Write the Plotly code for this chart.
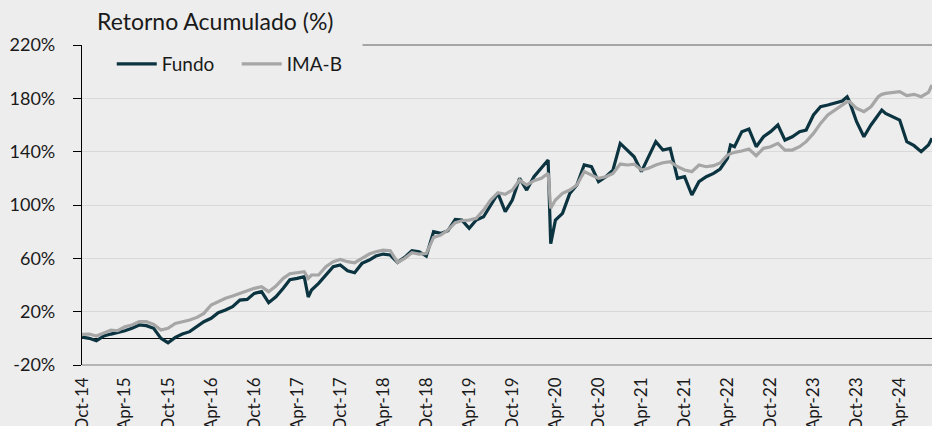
import plotly.graph_objects as go

dates = [
    "2014-10-01", "2014-11-01", "2014-12-01", "2015-01-01", "2015-02-01", "2015-03-01",
    "2015-04-01", "2015-05-01", "2015-06-01", "2015-07-01", "2015-08-01", "2015-09-01",
    "2015-10-01", "2015-11-01", "2015-12-01", "2016-01-01", "2016-02-01", "2016-03-01",
    "2016-04-01", "2016-05-01", "2016-06-01", "2016-07-01", "2016-08-01", "2016-09-01",
    "2016-10-01", "2016-11-01", "2016-12-01", "2017-01-01", "2017-02-01", "2017-03-01",
    "2017-04-01", "2017-05-01", "2017-05-18", "2017-06-01", "2017-07-01", "2017-08-01",
    "2017-09-01", "2017-10-01", "2017-11-01", "2017-12-01", "2018-01-01", "2018-02-01",
    "2018-03-01", "2018-04-01", "2018-05-01", "2018-06-01", "2018-07-01", "2018-08-01",
    "2018-09-01", "2018-10-01", "2018-11-01", "2018-12-01", "2019-01-01", "2019-02-01",
    "2019-03-01", "2019-04-01", "2019-05-01", "2019-06-01", "2019-07-01", "2019-08-01",
    "2019-09-01", "2019-10-01", "2019-11-01", "2019-12-01", "2020-01-01", "2020-02-01",
    "2020-03-01", "2020-03-12", "2020-04-01", "2020-05-01", "2020-06-01", "2020-07-01",
    "2020-08-01", "2020-09-01", "2020-10-01", "2020-11-01", "2020-12-01", "2021-01-01",
    "2021-02-01", "2021-03-01", "2021-04-01", "2021-05-01", "2021-06-01", "2021-07-01",
    "2021-08-01", "2021-09-01", "2021-10-01", "2021-11-01", "2021-12-01", "2022-01-01",
    "2022-02-01", "2022-03-01", "2022-04-01", "2022-04-14", "2022-05-01", "2022-06-01",
    "2022-07-01", "2022-08-01", "2022-09-01", "2022-10-01", "2022-11-01", "2022-12-01",
    "2023-01-01", "2023-02-01", "2023-03-01", "2023-04-01", "2023-05-01", "2023-06-01",
    "2023-07-01", "2023-08-01", "2023-08-22", "2023-09-01", "2023-10-01", "2023-11-01",
    "2023-12-01", "2024-01-01", "2024-01-16", "2024-02-01", "2024-03-01", "2024-04-01",
    "2024-05-01", "2024-06-01", "2024-07-01", "2024-08-01", "2024-08-16",
]

fundo = [
    1.0, 0.0, -1.8, 1.7, 3.2, 4.2,
    5.7, 7.5, 10.0, 9.5, 7.5, 0.0,
    -3.3, 0.7, 3.2, 5.0, 8.7, 12.5,
    15.0, 19.2, 21.2, 23.7, 28.7, 29.2,
    33.7, 35.0, 26.7, 31.2, 37.5, 44.0,
    45.0, 46.2, 31.0, 36.2, 41.2, 47.5,
    53.7, 55.0, 50.7, 49.2, 56.2, 58.7,
    61.7, 63.2, 62.5, 57.0, 60.7, 65.7,
    65.0, 61.7, 80.0, 78.7, 80.7, 89.2,
    88.7, 82.5, 88.7, 91.2, 100.0, 108.7,
    95.0, 103.7, 120.0, 111.2, 121.2, 127.5,
    133.7, 71.0, 88.7, 93.7, 108.7, 115.0,
    130.0, 128.7, 117.5, 121.2, 126.2, 146.2,
    141.2, 136.2, 125.0, 136.2, 147.5, 141.2,
    142.5, 120.0, 121.2, 107.5, 117.5, 121.2,
    123.7, 127.0, 135.0, 145.0, 143.7, 155.0,
    157.0, 143.7, 151.2, 155.0, 160.0, 148.7,
    151.2, 155.0, 156.2, 167.5, 173.7, 175.0,
    176.2, 178.0, 181.2, 177.5, 162.5, 151.2,
    160.0, 167.5, 171.2, 168.7, 166.2, 163.7,
    147.5, 144.5, 140.0, 145.0, 150.0,
]

ima_b = [
    3.0, 3.2, 1.7, 4.2, 6.2, 5.7,
    8.7, 10.0, 12.5, 12.5, 10.5, 6.2,
    7.5, 11.2, 12.5, 13.7, 15.7, 18.7,
    25.0, 27.5, 30.0, 31.7, 33.7, 35.7,
    37.5, 38.7, 35.0, 39.2, 45.0, 48.5,
    49.5, 50.0, 45.0, 47.5, 47.5, 53.7,
    57.5, 59.2, 57.5, 56.7, 60.0, 63.2,
    65.0, 66.2, 65.7, 57.0, 60.0, 64.2,
    63.2, 63.7, 75.7, 77.5, 81.2, 86.7,
    88.2, 88.7, 90.0, 96.2, 103.7, 109.2,
    108.0, 111.2, 118.7, 115.0, 118.2, 120.0,
    123.7, 97.5, 103.7, 108.7, 111.2, 115.0,
    125.0, 122.5, 120.0, 121.2, 123.7, 130.7,
    130.0, 130.7, 126.2, 127.5, 130.0, 131.7,
    132.5, 128.7, 126.2, 125.0, 130.0, 128.7,
    129.5, 131.5, 137.5, 138.5, 139.5, 140.5,
    142.0, 137.0, 142.5, 143.7, 146.2, 141.2,
    141.2, 143.7, 147.5, 153.7, 161.2, 167.5,
    171.2, 175.5, 177.5, 177.5, 172.5, 170.0,
    173.7, 181.2, 183.0, 183.7, 184.5, 185.0,
    182.0, 183.0, 181.2, 184.5, 190.0,
]

y_ticks = [-20, 20, 60, 100, 140, 180, 220]
y_tick_labels = ["-20%", "20%", "60%", "100%", "140%", "180%", "220%"]

FONT = "Lato"
BG = "#EDEDED"
TXT = "#1a1a1a"

fig = go.Figure()
fig.add_trace(go.Scatter(
    x=dates, y=fundo, name="Fundo", mode="lines",
    line=dict(color="#0B3440", width=3.2),
))
fig.add_trace(go.Scatter(
    x=dates, y=ima_b, name="IMA-B", mode="lines",
    line=dict(color="#A6A6A6", width=3.2),
))

fig.update_layout(
    width=932, height=426,
    paper_bgcolor=BG, plot_bgcolor=BG,
    margin=dict(l=82, r=0, t=45, b=61, autoexpand=False),
    font=dict(family=FONT, color=TXT),
    title=dict(
        text="Retorno Acumulado (%)",
        font=dict(family=FONT, size=23, color=TXT),
        x=97 / 932, xanchor="left", xref="container",
        y=1 - 22 / 426, yanchor="middle", yref="container",
    ),
    showlegend=True,
    legend=dict(
        orientation="h", x=0.035, y=1.0, xanchor="left", yanchor="top",
        bgcolor="rgba(0,0,0,0)", font=dict(family=FONT, size=19, color=TXT),
        itemwidth=40, tracegroupgap=0,
        entrywidth=70, entrywidthmode="pixels",
    ),
    xaxis=dict(
        type="date", automargin=False,
        range=["2014-10-01", "2024-08-16"],
        tick0="2014-10-01", dtick="M6", tickformat="%b-%y",
        tickangle=-90,
        tickfont=dict(family=FONT, size=17, color=TXT),
        showgrid=False, showline=False, zeroline=False,
        ticks="", ticklabelstandoff=8,
    ),
    yaxis=dict(
        automargin=False,
        range=[-20, 220],
        tickvals=y_ticks, ticktext=y_tick_labels,
        tickfont=dict(family=FONT, size=18, color=TXT),
        showgrid=True, gridcolor="#D9D9D9", gridwidth=1,
        showline=True, linecolor="#000000", linewidth=1.2,
        ticks="outside", ticklen=8, tickcolor="#000000",
        ticklabelstandoff=14,
        zeroline=True, zerolinecolor="#000000", zerolinewidth=1,
    ),
)

# bottom border line and top line (partly hidden by legend box in reference)
fig.add_shape(type="line", xref="paper", yref="paper", x0=0, x1=1, y0=0, y1=0,
              line=dict(color="#A0A0A0", width=1.5), layer="above")
fig.add_shape(type="line", xref="paper", yref="paper", x0=0.33, x1=1, y0=1, y1=1,
              line=dict(color="#8C8C8C", width=1.5), layer="above")

fig.write_html(
    "out.html",
    config={"displayModeBar": False},
    post_script="document.body.style.margin='0';document.body.style.background='#EDEDED';",
)
